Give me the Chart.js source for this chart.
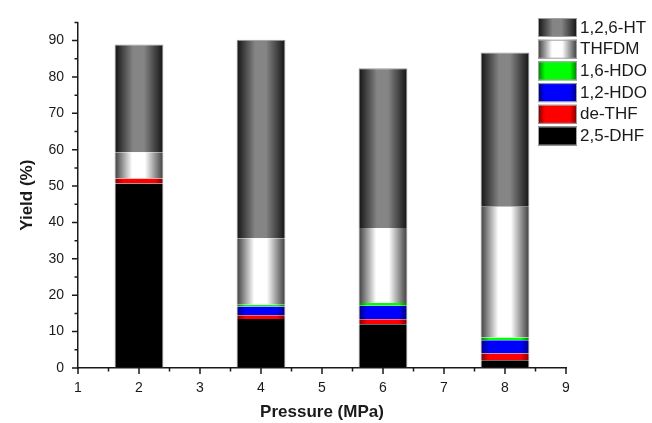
<!DOCTYPE html>
<html>
<head>
<meta charset="utf-8">
<script src="https://cdn.jsdelivr.net/npm/chart.js@4/dist/chart.umd.min.js"></script>
<style>
  html, body { margin: 0; padding: 0; background: #fff; }
</style>
</head>
<body>
<canvas id="yieldChart" width="652" height="423"></canvas>
<script>
// Product yields (%) at each hydrogen pressure, stacked bottom to top
const pressure = [2, 4, 6, 8];
const dhf   = [50.7, 13.5, 12.0, 2.1];
const deThf = [1.4, 1.0, 1.4, 1.9];
const hdo12 = [0, 2.4, 3.7, 3.6];
const hdo16 = [0, 0.5, 0.8, 0.8];
const thfdm = [7.2, 18.3, 20.6, 35.9];
const ht    = [29.6, 54.5, 43.9, 42.4];

const xTicks = [1, 2, 3, 4, 5, 6, 7, 8, 9];
const yTicks = [0, 10, 20, 30, 40, 50, 60, 70, 80, 90];

const fontFamily = '"Liberation Sans", Arial, sans-serif';
const ink = "#1a1a1a";

// cylinder-style shading: dark edges, light middle
const styles = {
    "2,5-DHF":  { edge: "#000000", mid: "#000000", lo: 0.3, hi: 0.7 },
    "de-THF":   { edge: "#7a0000", mid: "#ff0000", lo: 0.18, hi: 0.82 },
    "1,2-HDO":  { edge: "#00007a", mid: "#0000ff", lo: 0.18, hi: 0.82 },
    "1,6-HDO":  { edge: "#007a00", mid: "#00ff00", lo: 0.18, hi: 0.82 },
    "THFDM":    { edge: "#3c3c3c", mid: "#ffffff", lo: 0.36, hi: 0.62 },
    "1,2,6-HT": { edge: "#121212", mid: "#858585", lo: 0.38, hi: 0.6 }
};

function shade(ctx, x0, x1, s) {
    const g = ctx.createLinearGradient(x0, 0, x1, 0);
    g.addColorStop(0, s.edge);
    g.addColorStop(s.lo, s.mid);
    g.addColorStop(s.hi, s.mid);
    g.addColorStop(1, s.edge);
    return g;
}

function barFill(label) {
    const s = styles[label];
    return function (c) {
        const chart = c.chart;
        if (!chart.chartArea || c.type !== "data") {
            return s.mid;
        }
        const xs = chart.scales.x;
        const p = pressure[c.dataIndex];
        const left = xs.getPixelForValue(p - 0.4);
        const right = xs.getPixelForValue(p + 0.4);
        return shade(chart.ctx, left, right, s);
    };
}

function series(label, values) {
    return {
        label: label,
        data: pressure.map((p, i) => ({ x: p, y: values[i] })),
        backgroundColor: barFill(label),
        borderColor: "#9a9a9a",
        borderWidth: label === "1,2,6-HT" ? { top: 1, left: 1, right: 1, bottom: 0 } : { top: 0, left: 1, right: 1, bottom: 0 },
        borderSkipped: false,
        categoryPercentage: 0.8,
        barPercentage: 1
    };
}

// outward major and minor tick marks on both axes
const axisTicks = {
    id: "axisTicks",
    afterDraw(chart) {
        const { ctx, chartArea: a, scales: { x, y } } = chart;
        ctx.save();
        ctx.strokeStyle = ink;
        ctx.lineWidth = 1.5;
        ctx.beginPath();
        xTicks.forEach((v, i) => {
            const px = x.getPixelForValue(v);
            ctx.moveTo(px, a.bottom);
            ctx.lineTo(px, a.bottom + 6);
            if (i < xTicks.length - 1) {
                const m = x.getPixelForValue(v + 0.5);
                ctx.moveTo(m, a.bottom);
                ctx.lineTo(m, a.bottom + 3.5);
            }
        });
        yTicks.forEach(v => {
            const py = y.getPixelForValue(v);
            ctx.moveTo(a.left, py);
            ctx.lineTo(a.left - 6, py);
            if (v + 5 <= y.max) {
                const m = y.getPixelForValue(v + 5);
                ctx.moveTo(a.left, m);
                ctx.lineTo(a.left - 3.5, m);
            }
        });
        ctx.stroke();
        ctx.restore();
    }
};

// legend box on the right, top entry is the top of the stack
const seriesLegend = {
    id: "seriesLegend",
    afterDraw(chart) {
        const ctx = chart.ctx;
        const items = chart.data.datasets.slice().reverse();
        ctx.save();
        ctx.font = "17px " + fontFamily;
        ctx.textBaseline = "middle";
        items.forEach((ds, i) => {
            const top = 18 + i * 21.7;
            ctx.fillStyle = shade(ctx, 538, 577, styles[ds.label]);
            ctx.fillRect(538, top, 39, 19);
            ctx.strokeStyle = "#a0a0a0";
            ctx.lineWidth = 1;
            ctx.strokeRect(538.5, top + 0.5, 38, 18);
            ctx.fillStyle = ink;
            ctx.fillText(ds.label, 580, top + 10);
        });
        ctx.restore();
    }
};

new Chart(document.getElementById("yieldChart"), {
    type: "bar",
    data: {
        datasets: [
            series("2,5-DHF", dhf),
            series("de-THF", deThf),
            series("1,2-HDO", hdo12),
            series("1,6-HDO", hdo16),
            series("THFDM", thfdm),
            series("1,2,6-HT", ht)
        ]
    },
    options: {
        responsive: false,
        animation: false,
        layout: { padding: { left: 0, top: 8, right: 86, bottom: 0 } },
        plugins: {
            legend: { display: false },
            tooltip: { enabled: false }
        },
        scales: {
            x: {
                type: "linear",
                min: 1,
                max: 9,
                offset: false,
                stacked: true,
                afterBuildTicks: s => { s.ticks = xTicks.map(v => ({ value: v })); },
                afterFit: s => { s.height = 55; },
                grid: { display: true, drawOnChartArea: false, drawTicks: false, offset: false },
                border: { display: true, color: ink, width: 1.5 },
                ticks: { padding: 12, color: ink, font: { family: fontFamily, size: 14 }, maxRotation: 0 },
                title: {
                    display: true,
                    text: "Pressure (MPa)",
                    color: ink,
                    font: { family: fontFamily, size: 17, weight: "bold" },
                    padding: { top: 0, bottom: 0 }
                }
            },
            y: {
                min: 0,
                max: 95,
                stacked: true,
                afterBuildTicks: s => { s.ticks = yTicks.map(v => ({ value: v })); },
                afterFit: s => { s.width = 78; },
                grid: { display: true, drawOnChartArea: false, drawTicks: false },
                border: { display: true, color: ink, width: 1.5 },
                ticks: { padding: 14, color: ink, font: { family: fontFamily, size: 14 } },
                title: {
                    display: true,
                    text: "Yield (%)",
                    color: ink,
                    font: { family: fontFamily, size: 17, weight: "bold" },
                    padding: { top: 17, bottom: 0 }
                }
            }
        }
    },
    plugins: [axisTicks, seriesLegend]
});
</script>
</body>
</html>
